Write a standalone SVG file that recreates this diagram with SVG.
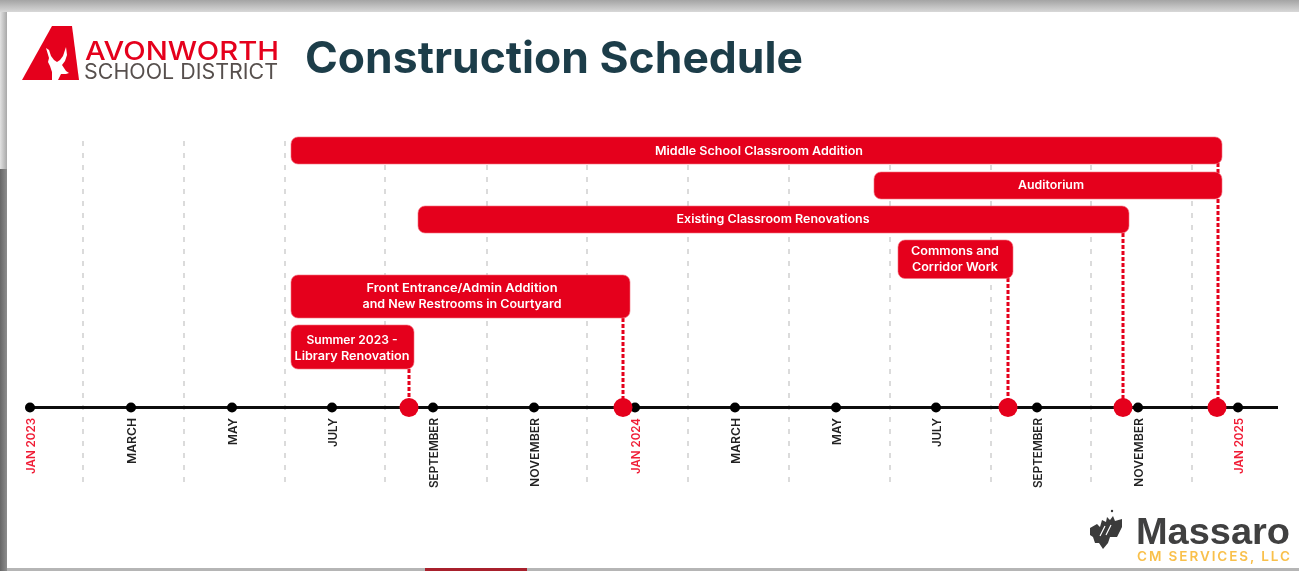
<svg xmlns="http://www.w3.org/2000/svg" width="1299" height="571" viewBox="0 0 1299 571">
<style>
text{font-family:"Inter","Liberation Sans",sans-serif}
.grid{stroke:#cfcfcf;stroke-width:1.5;stroke-dasharray:5 7;fill:none}
.bar{fill:#e5001c;stroke:#f3707f;stroke-width:.6}
.bl{fill:#fff;font-size:11.5px;font-weight:600;text-anchor:middle}
.lead{stroke:#e5001c;stroke-width:3;stroke-dasharray:4 2;fill:none}
.dot{fill:#000}
.mile{fill:#e5001c}
.m{font-size:11.5px;font-weight:600;fill:#222;text-anchor:end}
.r{fill:#f01c35}
</style>
<defs>
<linearGradient id="top" x1="0" y1="0" x2="0" y2="1"><stop offset="0" stop-color="#a4a4a4"/><stop offset="1" stop-color="#d8d8d8"/></linearGradient>
<linearGradient id="left" x1="0" y1="0" x2="1" y2="0"><stop offset="0" stop-color="#666"/><stop offset="1" stop-color="#8d8d8d"/></linearGradient>
<linearGradient id="leftTop" x1="0" y1="0" x2="1" y2="0"><stop offset="0" stop-color="#e2e2e2"/><stop offset="1" stop-color="#a8a8a8"/></linearGradient>
<filter id="soft" x="0" y="0" width="100%" height="100%"><feGaussianBlur stdDeviation="0.45"/></filter>
</defs>
<rect width="1299" height="571" fill="#fff"/>
<rect width="1299" height="12" fill="url(#top)"/>
<rect y="12" width="7" height="157" fill="url(#leftTop)"/>
<rect y="169" width="7" height="402" fill="url(#left)"/>
<rect x="7" y="568" width="1292" height="3" fill="#b5b5b5"/>
<rect x="425" y="568" width="102" height="3" fill="#a8202c"/>
<g filter="url(#soft)">
<g id="logo">
<polygon fill="#e5001c" points="52,26 72,26 79,80 22,80"/>
<polygon fill="#fff" points="46,48 49,50 51,56 54,60 57,62 60,60 63,56 65,50 66,47 67,55 65,61 62,65 66,71 69,73 66,74 61,74 58,80 52,80 52,72 50,66 48,62 49,58"/>
<text x="85" y="60" font-size="26" font-weight="500" fill="#e5001c" textLength="194" lengthAdjust="spacingAndGlyphs">AVONWORTH</text>
<text x="84" y="79" font-size="21" font-weight="400" fill="#57504d" textLength="194" lengthAdjust="spacingAndGlyphs">SCHOOL DISTRICT</text>
</g>
<text id="title" x="305" y="73" font-size="44" font-weight="700" fill="#1f3d4a" textLength="498" lengthAdjust="spacingAndGlyphs">Construction Schedule</text>
<g id="gridlines">
<path class="grid" d="M83 141V486M184 141V486M285 141V486M385 141V486M487 141V486M587 141V486M688 141V486M789 141V486M890 141V486M991 141V486M1091 141V486M1192 141V486"/>
</g>
<g id="connectors">
<path class="lead" d="M409 369V400M623 318V400M1008 278V400M1123 233V400M1218 163V400"/>
<path d="M30 407.500H1278" stroke="#111" stroke-width="3"/>
</g>
<g id="bar-middle"><rect class="bar" x="291" y="137" width="931" height="27" rx="7"/><text class="bl" x="759" y="155" textLength="208" lengthAdjust="spacingAndGlyphs">Middle School Classroom Addition</text></g>
<g id="bar-auditorium"><rect class="bar" x="874" y="172" width="348" height="27" rx="7"/><text class="bl" x="1051" y="189" textLength="66" lengthAdjust="spacingAndGlyphs">Auditorium</text></g>
<g id="bar-existing"><rect class="bar" x="418" y="206" width="711" height="27" rx="7"/><text class="bl" x="773" y="223" textLength="193" lengthAdjust="spacingAndGlyphs">Existing Classroom Renovations</text></g>
<g id="bar-commons"><rect class="bar" x="898" y="240" width="115" height="38.500" rx="7"/><text class="bl" x="955" y="255" textLength="88" lengthAdjust="spacingAndGlyphs">Commons and</text><text class="bl" x="955" y="271" textLength="86" lengthAdjust="spacingAndGlyphs">Corridor Work</text></g>
<g id="bar-front"><rect class="bar" x="291" y="275" width="339" height="43" rx="7"/><text class="bl" x="462" y="292" textLength="191" lengthAdjust="spacingAndGlyphs">Front Entrance/Admin Addition</text><text class="bl" x="462" y="308" textLength="199" lengthAdjust="spacingAndGlyphs">and New Restrooms in Courtyard</text></g>
<g id="bar-library"><rect class="bar" x="291" y="325" width="123" height="44" rx="7"/><text class="bl" x="352" y="344" textLength="91" lengthAdjust="spacingAndGlyphs">Summer 2023 -</text><text class="bl" x="352" y="360" textLength="115" lengthAdjust="spacingAndGlyphs">Library Renovation</text></g>
<g id="months">
<circle class="dot" cx="30" cy="407.500" r="5"/><text class="m" transform="translate(34.500 418) rotate(-90)" style="fill:#f01c35" textLength="56" lengthAdjust="spacingAndGlyphs">JAN 2023</text>
<circle class="dot" cx="131" cy="407.500" r="5"/><text class="m" transform="translate(135.500 418) rotate(-90)" textLength="46" lengthAdjust="spacingAndGlyphs">MARCH</text>
<circle class="dot" cx="232" cy="407.500" r="5"/><text class="m" transform="translate(236.500 418) rotate(-90)" textLength="27" lengthAdjust="spacingAndGlyphs">MAY</text>
<circle class="dot" cx="332" cy="407.500" r="5"/><text class="m" transform="translate(336.500 418) rotate(-90)" textLength="29" lengthAdjust="spacingAndGlyphs">JULY</text>
<circle class="dot" cx="433" cy="407.500" r="5"/><text class="m" transform="translate(437.500 418) rotate(-90)" textLength="70" lengthAdjust="spacingAndGlyphs">SEPTEMBER</text>
<circle class="dot" cx="534" cy="407.500" r="5"/><text class="m" transform="translate(538.500 418) rotate(-90)" textLength="69" lengthAdjust="spacingAndGlyphs">NOVEMBER</text>
<circle class="dot" cx="635" cy="407.500" r="5"/><text class="m" transform="translate(639.500 418) rotate(-90)" style="fill:#f01c35" textLength="56" lengthAdjust="spacingAndGlyphs">JAN 2024</text>
<circle class="dot" cx="735" cy="407.500" r="5"/><text class="m" transform="translate(739.500 418) rotate(-90)" textLength="46" lengthAdjust="spacingAndGlyphs">MARCH</text>
<circle class="dot" cx="836" cy="407.500" r="5"/><text class="m" transform="translate(840.500 418) rotate(-90)" textLength="27" lengthAdjust="spacingAndGlyphs">MAY</text>
<circle class="dot" cx="936" cy="407.500" r="5"/><text class="m" transform="translate(940.500 418) rotate(-90)" textLength="29" lengthAdjust="spacingAndGlyphs">JULY</text>
<circle class="dot" cx="1037" cy="407.500" r="5"/><text class="m" transform="translate(1041.500 418) rotate(-90)" textLength="70" lengthAdjust="spacingAndGlyphs">SEPTEMBER</text>
<circle class="dot" cx="1138" cy="407.500" r="5"/><text class="m" transform="translate(1142.500 418) rotate(-90)" textLength="69" lengthAdjust="spacingAndGlyphs">NOVEMBER</text>
<circle class="dot" cx="1238" cy="407.500" r="5"/><text class="m" transform="translate(1242.500 418) rotate(-90)" style="fill:#f01c35" textLength="56" lengthAdjust="spacingAndGlyphs">JAN 2025</text>
</g>
<g id="milestones">
<circle class="mile" cx="409" cy="407.500" r="9.500"/><circle class="mile" cx="623" cy="407.500" r="9.500"/><circle class="mile" cx="1008" cy="407.500" r="9.500"/><circle class="mile" cx="1123" cy="407.500" r="9.500"/><circle class="mile" cx="1217" cy="407.500" r="9.500"/>
</g>
<g id="massaro">
<polygon fill="#3a3a3a" points="1090,528 1097,524 1100,527 1102,520 1106,522 1107,517 1110,520 1113,516 1115,521 1122,519 1122,527 1117,537 1110,537 1108,543 1103,549 1099,543 1095,543 1093,537 1090,535"/>
<path d="M1100,536L1105,526M1106,535L1111,525" stroke="#fff" stroke-width="1.200" fill="none"/>
<circle cx="1112" cy="511" r="1.200" fill="#3a3a3a"/>
<text x="1136" y="544" font-size="36" font-weight="700" fill="#3f3f40" style="font-family:'Liberation Sans',sans-serif" textLength="154" lengthAdjust="spacingAndGlyphs">Massaro</text>
<text x="1137" y="561" font-size="13.500" font-weight="600" fill="#f9c04b" textLength="153" lengthAdjust="spacing">CM SERVICES, LLC</text>
</g>
</g>
</svg>
